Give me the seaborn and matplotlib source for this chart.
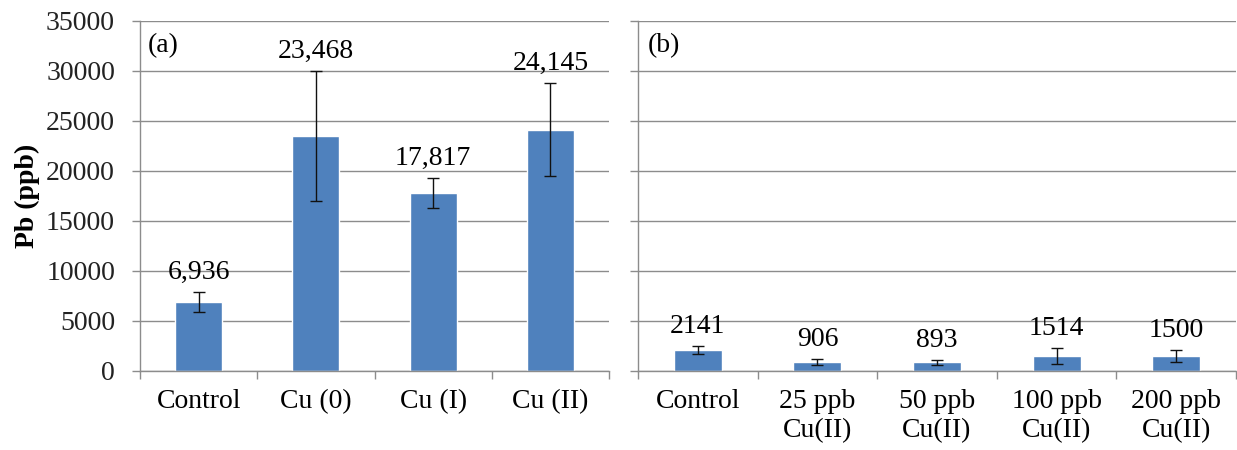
import numpy as np
import pandas as pd
import matplotlib
matplotlib.use("Agg")
import matplotlib.pyplot as plt
import seaborn as sns

sns.set_theme(style="white")
plt.rcParams['font.family'] = ['Liberation Serif', 'DejaVu Serif']

# Panel (a): copper source
cats_a = ["Control", "Cu (0)", "Cu (I)", "Cu (II)"]
pb_a = [6936, 23468, 17817, 24145]
err_a = [1000, 6500, 1500, 4650]

# Panel (b): Cu(II) dose
cats_b = ["Control", "25 ppb\nCu(II)", "50 ppb\nCu(II)", "100 ppb\nCu(II)", "200 ppb\nCu(II)"]
pb_b = [2141, 906, 893, 1514, 1500]
err_b = [400, 330, 250, 780, 640]

y_ticks = [0, 5000, 10000, 15000, 20000, 25000, 30000, 35000]

BAR = "#4F81BD"
GRID = "#8C8C8C"
FS = 20

W, H = 1237, 450
fig = plt.figure(figsize=(W / 100, H / 100), dpi=100)
ax_a = fig.add_axes([140 / W, 79 / H, 469 / W, 350 / H])
ax_b = fig.add_axes([638 / W, 79 / H, 598 / W, 350 / H])


def panel(ax, cats, vals, errs, tag, fmt, show_y):
    df = pd.DataFrame({"cat": cats, "pb": vals})
    sns.barplot(data=df, x="cat", y="pb", color=BAR, saturation=1,
                width=0.4, errorbar=None, ax=ax, zorder=2)
    n = len(cats)
    xs = np.arange(n)
    ax.errorbar(xs, vals, yerr=errs, fmt="none", ecolor="#111111",
                elinewidth=1, capsize=4, capthick=1, zorder=3)
    for x, v, e in zip(xs, vals, errs):
        ax.annotate(fmt(v), (x, v + e), xytext=(0, 5), textcoords="offset points",
                    ha="center", va="bottom", fontsize=FS, color="black")

    ax.set_ylim(0, 35000)
    ax.set_yticks(y_ticks)
    ax.set_xlim(-0.5, n - 0.5)
    ax.set_xticks(xs)
    ax.set_xticks(np.arange(n + 1) - 0.5, minor=True)
    ax.tick_params(axis="x", which="major", length=0, pad=13, labelsize=FS,
                   labelcolor="black")
    ax.tick_params(axis="x", which="minor", length=6, width=1, color=GRID,
                   direction="out", bottom=True)
    ax.tick_params(axis="y", length=6, width=1, color=GRID, direction="out",
                   left=True, pad=12, labelsize=FS, labelcolor="#222222",
                   labelleft=show_y)
    ax.yaxis.grid(True, color=GRID, linewidth=1)
    ax.set_axisbelow(True)
    for s in ("top", "right"):
        ax.spines[s].set_visible(False)
    for s in ("left", "bottom"):
        ax.spines[s].set_color(GRID)
        ax.spines[s].set_linewidth(1)
    ax.set_xlabel("")
    ax.set_ylabel("")
    ax.text(0.017, 0.93, tag, transform=ax.transAxes, fontsize=FS,
            ha="left", va="center", color="black")


panel(ax_a, cats_a, pb_a, err_a, "(a)", lambda v: f"{v:,}", True)
panel(ax_b, cats_b, pb_b, err_b, "(b)", lambda v: f"{v}", False)

ax_a.set_ylabel("Pb (ppb)", fontsize=FS, fontweight="bold", color="black")
ax_a.yaxis.set_label_coords(-0.213, 0.5)

fig.savefig("out.png", dpi=100, facecolor="white")
